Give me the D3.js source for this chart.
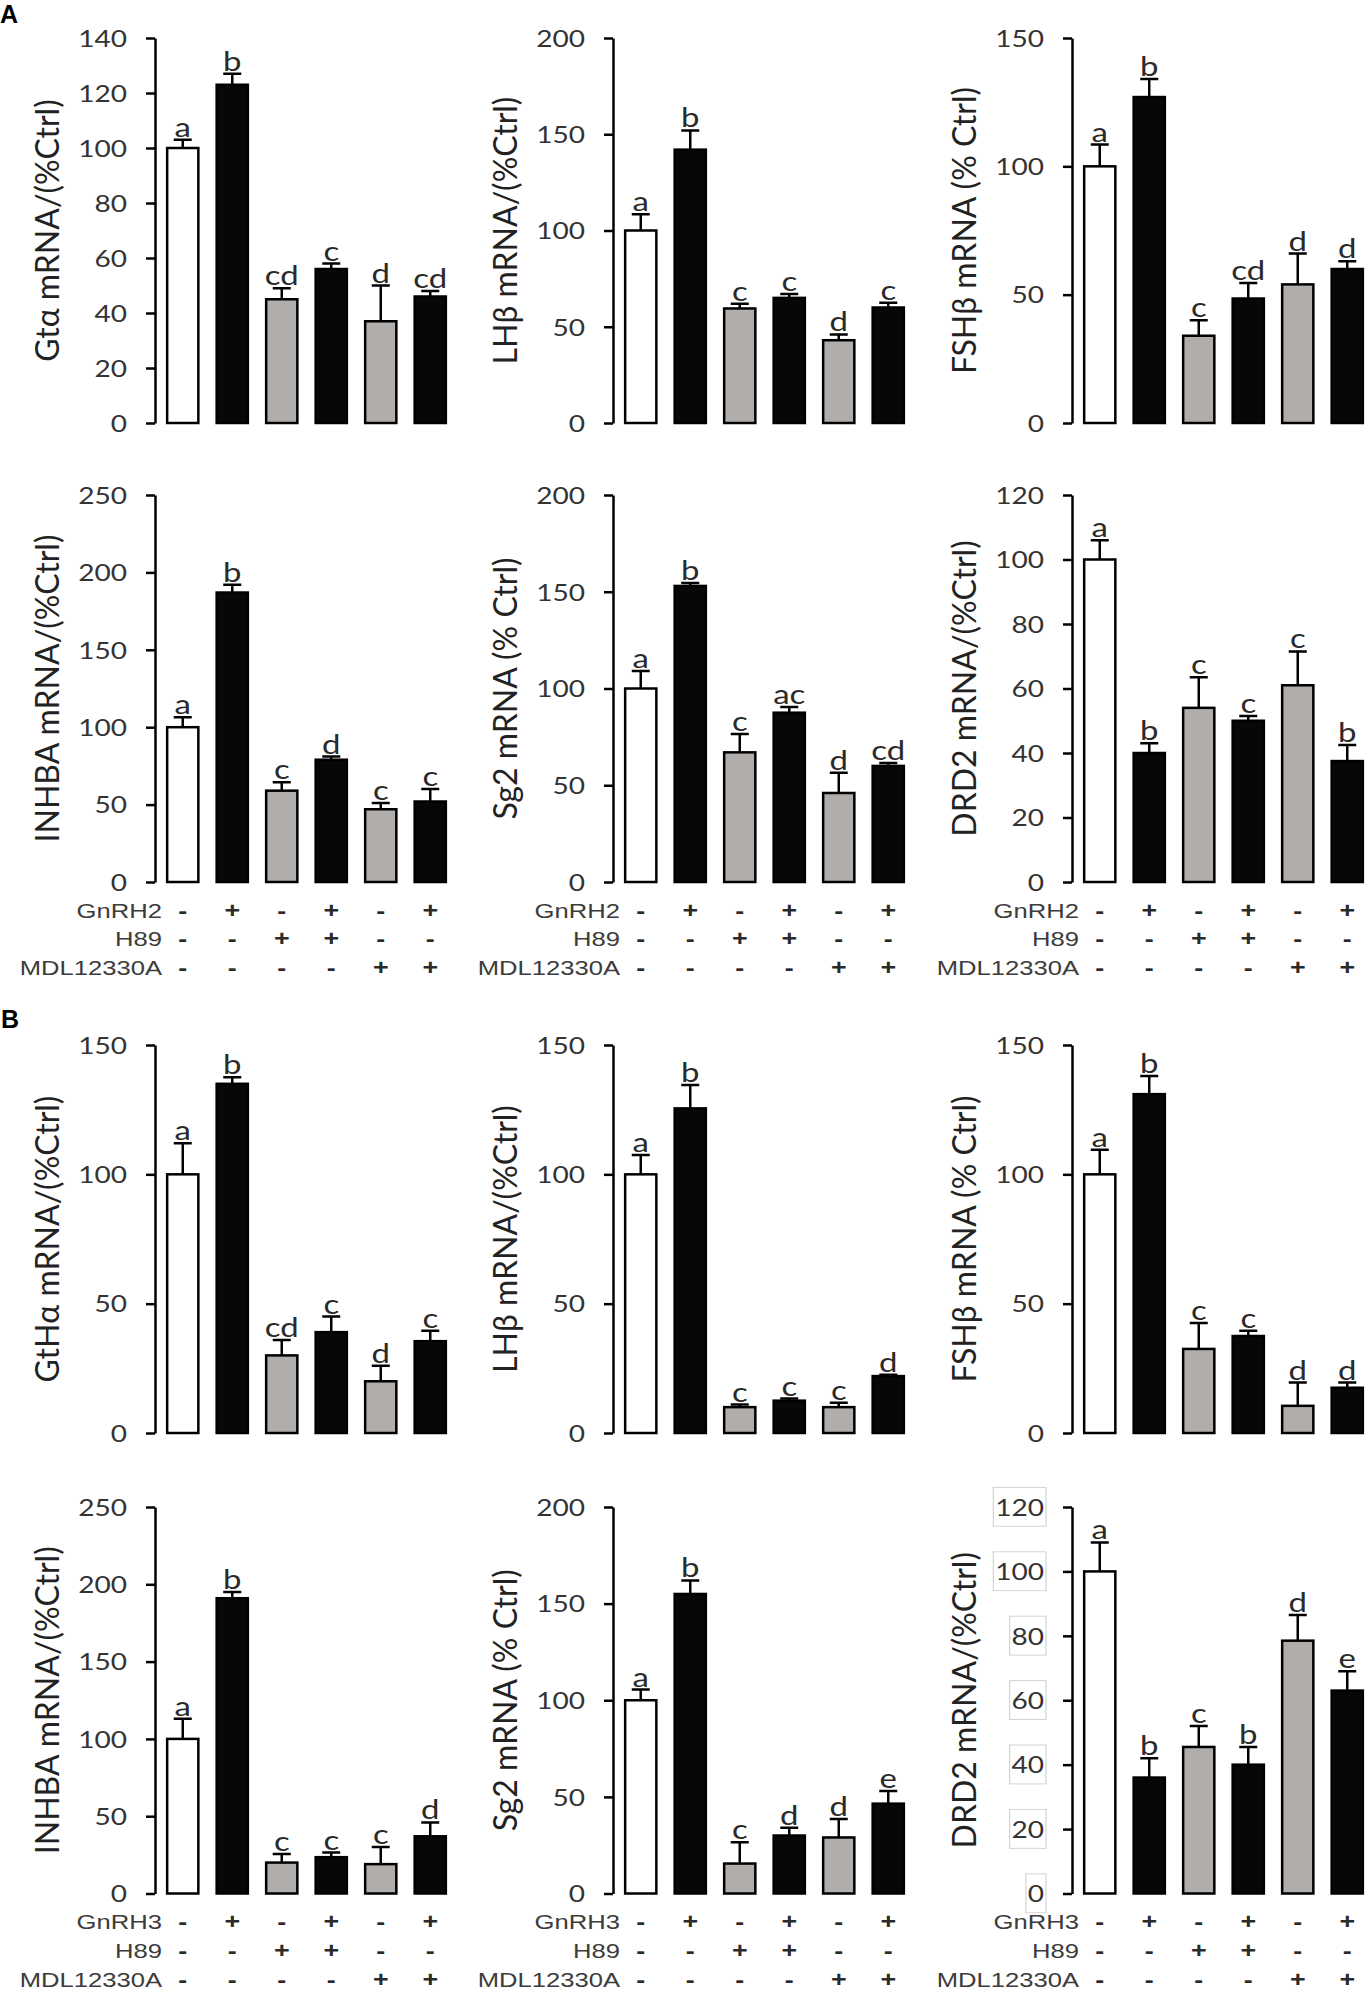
<!DOCTYPE html>
<html>
<head>
<meta charset="utf-8">
<script src="https://cdn.jsdelivr.net/npm/d3@7"></script>
<style>
  body { margin: 0; background: #fff; }
  svg { display: block; }
</style>
</head>
<body>
<div id="chart"></div>
<script>
// ---- data ----
const gnrh2Signs = ["-", "+", "-", "+", "-", "+"];
const h89Signs   = ["-", "-", "+", "+", "-", "-"];
const mdlSigns   = ["-", "-", "-", "-", "+", "+"];

// panel A (GnRH2)
const aGtaMean = [100, 123, 45, 56, 37, 46];
const aGtaErr  = [3, 4, 4, 2, 13, 2];
const aGtaLet  = ["a", "b", "cd", "c", "d", "cd"];
const aGtaTicks = [0, 20, 40, 60, 80, 100, 120, 140];

const aLhMean = [100, 142, 59.5, 65, 43, 60];
const aLhErr  = [8.5, 10, 2.5, 2, 3, 2.5];
const aLhLet  = ["a", "b", "c", "c", "d", "c"];
const aLhTicks = [0, 50, 100, 150, 200];

const aFshMean = [100, 127, 34, 48.5, 54, 60];
const aFshErr  = [8.5, 7, 6, 6, 12, 3];
const aFshLet  = ["a", "b", "c", "cd", "d", "d"];
const aFshTicks = [0, 50, 100, 150];

const aInhMean = [100, 187, 59, 79, 47, 52];
const aInhErr  = [6.5, 5, 5.5, 2, 4, 8];
const aInhLet  = ["a", "b", "c", "d", "c", "c"];
const aInhTicks = [0, 50, 100, 150, 200, 250];

const aSgMean = [100, 153, 67, 87.5, 46, 60];
const aSgErr  = [9, 1.5, 9.5, 3, 10.5, 1.5];
const aSgLet  = ["a", "b", "c", "ac", "d", "cd"];
const aSgTicks = [0, 50, 100, 150, 200];

const aDrdMean = [100, 40, 54, 50, 61, 37.5];
const aDrdErr  = [6, 3, 9.5, 1.5, 10.5, 5];
const aDrdLet  = ["a", "b", "c", "c", "c", "b"];
const aDrdTicks = [0, 20, 40, 60, 80, 100, 120];

// panel B (GnRH3)
const bGthMean = [100, 135, 30, 39, 20, 35.5];
const bGthErr  = [12, 2.5, 6, 6, 6, 4];
const bGthLet  = ["a", "b", "cd", "c", "d", "c"];
const bGthTicks = [0, 50, 100, 150];

const bLhMean = [100, 125.5, 10, 12.5, 10, 22];
const bLhErr  = [7.5, 9, 1, 0.8, 1.7, 0.5];
const bLhLet  = ["a", "b", "c", "c", "c", "d"];
const bLhTicks = [0, 50, 100, 150];

const bFshMean = [100, 131, 32.5, 37.5, 10.5, 17.5];
const bFshErr  = [9.5, 7, 10, 2, 9, 2];
const bFshLet  = ["a", "b", "c", "c", "d", "d"];
const bFshTicks = [0, 50, 100, 150];

const bInhMean = [100, 191, 20, 23.5, 19, 37];
const bInhErr  = [13, 4, 5.5, 3, 11, 9];
const bInhLet  = ["a", "b", "c", "c", "c", "d"];
const bInhTicks = [0, 50, 100, 150, 200, 250];

const bSgMean = [100, 155, 15.5, 30, 29, 46.5];
const bSgErr  = [5.5, 7, 11, 4, 9.5, 6.5];
const bSgLet  = ["a", "b", "c", "d", "d", "e"];
const bSgTicks = [0, 50, 100, 150, 200];

const bDrdMean = [100, 36, 45.5, 40, 78.5, 63];
const bDrdErr  = [9, 6, 6.5, 5.5, 8, 6];
const bDrdLet  = ["a", "b", "c", "b", "d", "e"];
const bDrdTicks = [0, 20, 40, 60, 80, 100, 120];

// ---- layout & style ----
const W = 1367, H = 1991;
const colAxisX = [155, 613, 1072];
const rowRange = [[38, 423], [495, 882], [1045, 1433], [1507, 1893.5]];
const barColors = ["#ffffff", "#060808", "#b1adab", "#060808", "#b1adab", "#060808"];
const stretch = 1.22;          // glyphs in the figure are drawn a little wide
const tickFont = "Lato, 'Open Sans', sans-serif";
const armFont = "'Liberation Sans', Arial, sans-serif";

const panels = [
  { row: 0, col: 0, title: "Gtα mRNA/(%Ctrl)",   mean: aGtaMean, err: aGtaErr, letters: aGtaLet, ticks: aGtaTicks },
  { row: 0, col: 1, title: "LHβ mRNA/(%Ctrl)",   mean: aLhMean,  err: aLhErr,  letters: aLhLet,  ticks: aLhTicks },
  { row: 0, col: 2, title: "FSHβ mRNA (% Ctrl)", mean: aFshMean, err: aFshErr, letters: aFshLet, ticks: aFshTicks },
  { row: 1, col: 0, title: "INHBA mRNA/(%Ctrl)", mean: aInhMean, err: aInhErr, letters: aInhLet, ticks: aInhTicks, arms: "GnRH2" },
  { row: 1, col: 1, title: "Sg2 mRNA (% Ctrl)",  mean: aSgMean,  err: aSgErr,  letters: aSgLet,  ticks: aSgTicks, arms: "GnRH2" },
  { row: 1, col: 2, title: "DRD2 mRNA/(%Ctrl)",  mean: aDrdMean, err: aDrdErr, letters: aDrdLet, ticks: aDrdTicks, arms: "GnRH2" },
  { row: 2, col: 0, title: "GtHα mRNA/(%Ctrl)",  mean: bGthMean, err: bGthErr, letters: bGthLet, ticks: bGthTicks },
  { row: 2, col: 1, title: "LHβ mRNA/(%Ctrl)",   mean: bLhMean,  err: bLhErr,  letters: bLhLet,  ticks: bLhTicks },
  { row: 2, col: 2, title: "FSHβ mRNA (% Ctrl)", mean: bFshMean, err: bFshErr, letters: bFshLet, ticks: bFshTicks },
  { row: 3, col: 0, title: "INHBA mRNA/(%Ctrl)", mean: bInhMean, err: bInhErr, letters: bInhLet, ticks: bInhTicks, arms: "GnRH3" },
  { row: 3, col: 1, title: "Sg2 mRNA (% Ctrl)",  mean: bSgMean,  err: bSgErr,  letters: bSgLet,  ticks: bSgTicks, arms: "GnRH3" },
  { row: 3, col: 2, title: "DRD2 mRNA/(%Ctrl)",  mean: bDrdMean, err: bDrdErr, letters: bDrdLet, ticks: bDrdTicks, arms: "GnRH3", boxed: true }
];

const svg = d3.select("#chart").append("svg")
  .attr("width", W).attr("height", H)
  .attr("viewBox", `0 0 ${W} ${H}`);

// section letters
svg.append("text").attr("x", 0).attr("y", 23).text("A")
  .style("font-family", armFont).style("font-weight", "bold").style("font-size", "25px");
svg.append("text").attr("x", 1).attr("y", 1028).text("B")
  .style("font-family", armFont).style("font-weight", "bold").style("font-size", "25px");

panels.forEach(p => {
  const ax = colAxisX[p.col];
  const [top, bottom] = rowRange[p.row];
  const g = svg.append("g");

  const y = d3.scaleLinear().domain([0, d3.max(p.ticks)]).range([bottom, top]);
  const x = d3.scaleBand().domain(d3.range(6)).range([ax + 3, ax + 300])
    .paddingInner(0.37).paddingOuter(0.185);

  // y axis
  const axis = g.append("g")
    .attr("transform", `translate(${ax},0)`)
    .call(d3.axisLeft(y).tickValues(p.ticks).tickSize(9).tickSizeOuter(0).tickFormat(d3.format("d")));
  axis.select(".domain").attr("stroke", "#000").attr("stroke-width", 2.5);
  axis.selectAll(".tick line").attr("stroke", "#000").attr("stroke-width", 2.5);
  axis.selectAll(".tick text")
    .attr("x", 0).attr("dy", "0.36em")
    .attr("transform", `translate(-28,0) scale(${stretch},1)`)
    .attr("text-anchor", "end")
    .style("font-family", tickFont).style("font-size", "23px").attr("fill", "#333");

  if (p.boxed) {
    axis.selectAll(".tick").each(function () {
      const t = d3.select(this).select("text");
      const bb = t.node().getBBox();
      d3.select(this).insert("rect", "text")
        .attr("transform", `translate(-28,0) scale(${stretch},1)`)
        .attr("x", bb.x - 1.5).attr("y", bb.y - 6)
        .attr("width", bb.width + 3).attr("height", bb.height + 12)
        .attr("fill", "none").attr("stroke", "#d4d4d4").attr("stroke-width", 1);
    });
  }

  // y title
  g.append("text")
    .attr("transform", `translate(${ax - 96},${(top + bottom) / 2}) rotate(-90)`)
    .attr("text-anchor", "middle")
    .style("font-family", tickFont).style("font-size", "32px").attr("fill", "#222")
    .text(p.title);

  // bars
  g.selectAll("rect.bar").data(p.mean).join("rect")
    .attr("class", "bar")
    .attr("x", (d, i) => x(i)).attr("width", x.bandwidth())
    .attr("y", d => y(d)).attr("height", d => y(0) - y(d))
    .attr("fill", (d, i) => barColors[i])
    .attr("stroke", "#000").attr("stroke-width", 2.5);

  // error bars (upper only)
  const cx = i => x(i) + x.bandwidth() / 2;
  g.selectAll("path.err").data(p.mean).join("path")
    .attr("class", "err")
    .attr("d", (d, i) => {
      const y0 = y(d), y1 = y(d + p.err[i]);
      return `M${cx(i)},${y0}V${y1}M${cx(i) - 9},${y1}H${cx(i) + 9}`;
    })
    .attr("fill", "none").attr("stroke", "#000").attr("stroke-width", 2.5);

  // significance letters
  g.selectAll("text.sig").data(p.letters).join("text")
    .attr("class", "sig")
    .attr("transform", (d, i) => `translate(${cx(i)},${y(p.mean[i] + p.err[i]) - 3}) scale(${stretch},1)`)
    .attr("text-anchor", "middle")
    .style("font-family", tickFont).style("font-size", "27px").attr("fill", "#2a2a2a")
    .text(d => d);

  // treatment table under the lower rows
  if (p.arms) {
    const rows = [[p.arms, gnrh2Signs], ["H89", h89Signs], ["MDL12330A", mdlSigns]];
    const offs = [28, 56.5, 85.5];
    rows.forEach(([name, signs], r) => {
      const by = bottom + offs[r] + 7.5;
      g.append("text")
        .attr("transform", `translate(${ax + 7},${by}) scale(${stretch},1)`)
        .attr("text-anchor", "end")
        .style("font-family", armFont).style("font-size", "21px").attr("fill", "#3c3c3c")
        .text(name);
      g.selectAll(null).data(signs).join("text")
        .attr("transform", (d, i) => `translate(${cx(i)},${by}) scale(${stretch},1)`)
        .attr("text-anchor", "middle")
        .style("font-family", armFont).style("font-size", "22px").style("font-weight", "bold")
        .attr("fill", "#2a2a2a")
        .text(d => d);
    });
  }
});
</script>
</body>
</html>
